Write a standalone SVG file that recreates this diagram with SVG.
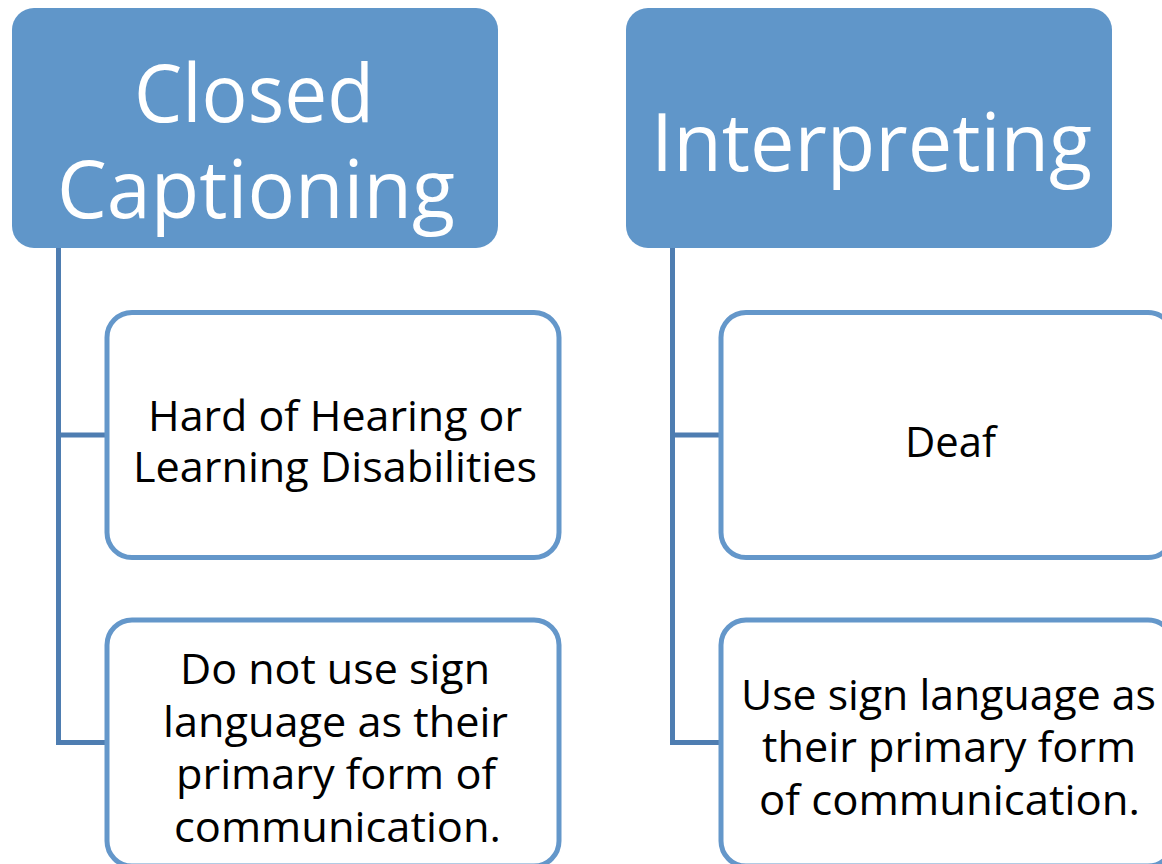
<svg xmlns="http://www.w3.org/2000/svg" width="1162" height="864" viewBox="0 0 1162 864">
<style>
.hdr{fill:#6096C9;}
.child{fill:#FFFFFF;stroke:#6497CA;stroke-width:5;}
.conn{fill:none;stroke:#4E7DB1;stroke-width:5;stroke-linejoin:miter;}
.ht{font-family:"Open Sans","Noto Sans",sans-serif;font-size:81px;fill:#FFFFFF;}
.ct{font-family:"Open Sans","Noto Sans",sans-serif;font-size:42px;fill:#000000;}
</style>
<rect width="1162" height="864" fill="#FFFFFF"/>
<g id="connectors">
<path class="conn" d="M58.5 248 V742.5 H107 M58.5 435 H107"/>
<path class="conn" d="M672.5 248 V742.5 H721 M672.5 435 H721"/>
</g>
<g id="node-closed-captioning">
<rect class="hdr" x="12" y="8" width="486" height="240" rx="22"/>
<text class="ht" x="134" y="122" textLength="240" lengthAdjust="spacingAndGlyphs">Closed</text>
<text class="ht" x="57" y="218" textLength="398" lengthAdjust="spacingAndGlyphs">Captioning</text>
</g>
<g id="node-interpreting">
<rect class="hdr" x="626" y="8" width="486" height="240" rx="22"/>
<text class="ht" x="651" y="171" textLength="441" lengthAdjust="spacingAndGlyphs">Interpreting</text>
</g>
<g id="node-hard-of-hearing">
<rect class="child" x="107" y="312.5" width="452" height="245" rx="25"/>
<text class="ct" x="148" y="431" textLength="374" lengthAdjust="spacingAndGlyphs">Hard of Hearing or</text>
<text class="ct" x="133" y="482" textLength="404" lengthAdjust="spacingAndGlyphs">Learning Disabilities</text>
</g>
<g id="node-no-sign-language">
<rect class="child" x="107" y="620" width="452" height="246" rx="25"/>
<text class="ct" x="180" y="684" textLength="310" lengthAdjust="spacingAndGlyphs">Do not use sign</text>
<text class="ct" x="163" y="737" textLength="345" lengthAdjust="spacingAndGlyphs">language as their</text>
<text class="ct" x="176" y="789" textLength="320" lengthAdjust="spacingAndGlyphs">primary form of</text>
<text class="ct" x="174" y="842" textLength="327" lengthAdjust="spacingAndGlyphs">communication.</text>
</g>
<g id="node-deaf">
<rect class="child" x="721" y="312.5" width="452" height="245" rx="25"/>
<text class="ct" x="905" y="457" textLength="91" lengthAdjust="spacingAndGlyphs">Deaf</text>
</g>
<g id="node-sign-language">
<rect class="child" x="721" y="620" width="452" height="246" rx="25"/>
<text class="ct" x="741" y="710" textLength="415" lengthAdjust="spacingAndGlyphs">Use sign language as</text>
<text class="ct" x="762" y="762" textLength="374" lengthAdjust="spacingAndGlyphs">their primary form</text>
<text class="ct" x="759" y="815" textLength="381" lengthAdjust="spacingAndGlyphs">of communication.</text>
</g>
</svg>
